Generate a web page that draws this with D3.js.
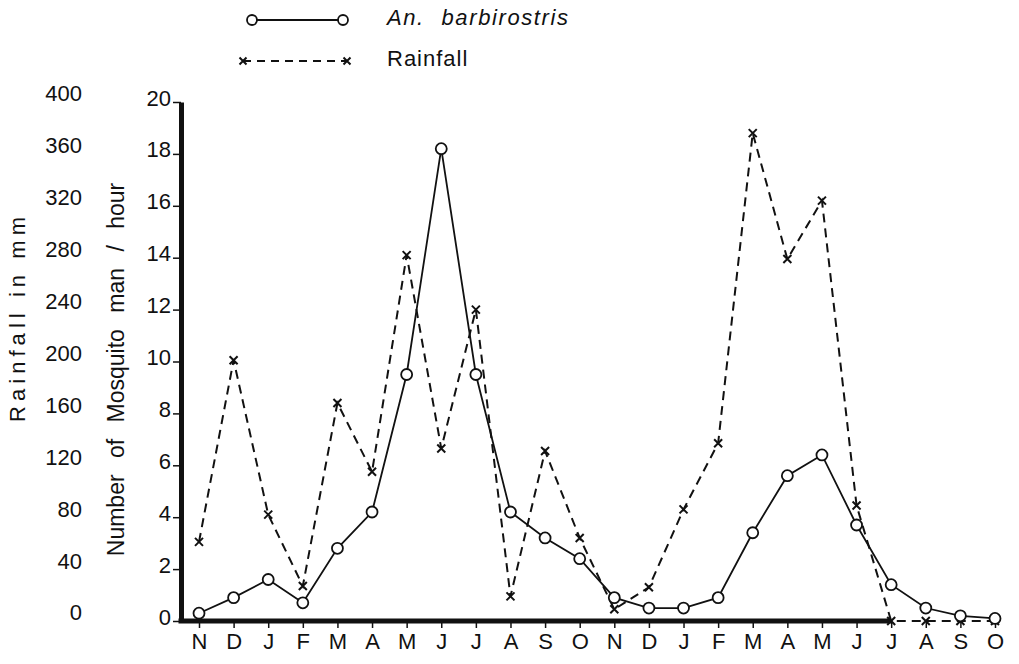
<!DOCTYPE html>
<html>
<head>
<meta charset="utf-8">
<script src="https://cdn.jsdelivr.net/npm/d3@7"></script>
<style>
  body { margin: 0; background: #fff; }
  text { font-family: "Liberation Sans", Arial, sans-serif; fill: #111; }
</style>
</head>
<body>
<div id="chart"></div>
<script>
// month labels, Nov to Oct over two years
const months = ["N","D","J","F","M","A","M","J","J","A","S","O",
                "N","D","J","F","M","A","M","J","J","A","S","O"];
// An. barbirostris, mosquitoes per man-hour
const mosquito = [0.3,0.9,1.6,0.7,2.8,4.2,9.5,18.2,9.5,4.2,3.2,2.4,
                  0.9,0.5,0.5,0.9,3.4,5.6,6.4,3.7,1.4,0.5,0.2,0.1];
// rainfall in mm
const rainfall = [61,201,82,27,168,115,282,133,240,19,131,64,
                  9,26,86,137,376,279,324,89,0,0,0,0];
const mosqTicks = d3.range(0, 21, 2);
const rainTicks = d3.range(0, 401, 40);

const width = 1019, height = 664;
const axisX = 181;

const svg = d3.select("#chart").append("svg")
    .attr("width", width)
    .attr("height", height);

const x = d3.scalePoint().domain(d3.range(months.length)).range([199, 995]);
const y = d3.scaleLinear().domain([0, 20]).range([621, 102]);
const yRain = d3.scaleLinear().domain([0, 400]).range([621, 102]);

// mosquito axis (thick line)
const yAxisG = svg.append("g")
    .attr("transform", `translate(${axisX},0)`)
    .call(d3.axisLeft(y).tickValues(mosqTicks).tickSize(8).tickSizeOuter(0).tickPadding(2));
yAxisG.select(".domain").attr("stroke-width", 5).attr("stroke", "#111");
yAxisG.selectAll(".tick line").attr("stroke-width", 1.5).attr("stroke", "#111");
yAxisG.selectAll(".tick text").attr("dy", "0.14em").style("font-size", "22px").attr("fill", "#111");

// rainfall axis (labels only)
const rainAxisG = svg.append("g")
    .attr("transform", "translate(82,0)")
    .call(d3.axisLeft(yRain).tickValues(rainTicks).tickSize(0).tickPadding(0));
rainAxisG.select(".domain").remove();
rainAxisG.selectAll(".tick text").attr("dy", "-0.05em").style("font-size", "22px").attr("fill", "#111");

// month axis
const xAxisG = svg.append("g")
    .attr("transform", "translate(0,621)")
    .call(d3.axisBottom(x).tickFormat(i => months[i]).tickSize(7).tickPadding(5));
xAxisG.select(".domain").remove();
xAxisG.selectAll(".tick line").attr("stroke-width", 1.5).attr("stroke", "#111");
xAxisG.selectAll(".tick text").style("font-size", "22px").attr("fill", "#111");

svg.append("line")
    .attr("x1", axisX - 2.5).attr("x2", x(20))
    .attr("y1", y(0)).attr("y2", y(0))
    .attr("stroke", "#111").attr("stroke-width", 5);

// axis titles
svg.append("text")
    .attr("transform", `translate(25,${(217 + 422) / 2}) rotate(-90)`)
    .attr("text-anchor", "middle")
    .attr("textLength", 205)
    .attr("lengthAdjust", "spacing")
    .style("font-size", "22px")
    .text("Rainfall in mm");

svg.append("text")
    .attr("transform", `translate(124,${(174 + 565) / 2}) rotate(-90)`)
    .attr("text-anchor", "middle")
    .style("font-size", "23px")
    .style("word-spacing", "10px")
    .text("Number of Mosquito man / hour");

// rainfall line
const lineRain = d3.line().x((d, i) => x(i)).y(d => yRain(d));
svg.append("path")
    .datum(rainfall)
    .attr("d", lineRain)
    .attr("fill", "none")
    .attr("stroke", "#111")
    .attr("stroke-width", 2)
    .attr("stroke-dasharray", "9,6");

// mosquito line
const lineMosq = d3.line().x((d, i) => x(i)).y(d => y(d));
svg.append("path")
    .datum(mosquito)
    .attr("d", lineMosq)
    .attr("fill", "none")
    .attr("stroke", "#111")
    .attr("stroke-width", 1.8);

const crossPath = "M-4,-4L4,4M-4,4L4,-4";

svg.selectAll(".rain-pt")
    .data(rainfall)
    .join("path")
    .attr("class", "rain-pt")
    .attr("transform", (d, i) => `translate(${x(i)},${yRain(d)})`)
    .attr("d", crossPath)
    .attr("stroke", "#111")
    .attr("stroke-width", 2);

svg.selectAll(".mosq-pt")
    .data(mosquito)
    .join("circle")
    .attr("class", "mosq-pt")
    .attr("cx", (d, i) => x(i))
    .attr("cy", d => y(d))
    .attr("r", 5.5)
    .attr("fill", "#fff")
    .attr("stroke", "#111")
    .attr("stroke-width", 1.8);

// legend
const legend = svg.append("g");
legend.append("line")
    .attr("x1", 252).attr("x2", 343).attr("y1", 20).attr("y2", 20)
    .attr("stroke", "#111").attr("stroke-width", 1.8);
legend.selectAll("circle")
    .data([252, 343])
    .join("circle")
    .attr("cx", d => d).attr("cy", 20).attr("r", 5)
    .attr("fill", "#fff").attr("stroke", "#111").attr("stroke-width", 1.8);
legend.append("text")
    .attr("x", 387).attr("y", 25)
    .style("font-size", "22px")
    .style("font-style", "italic")
    .style("letter-spacing", "1.6px")
    .style("word-spacing", "9px")
    .text("An. barbirostris");

legend.append("line")
    .attr("x1", 243).attr("x2", 347).attr("y1", 61).attr("y2", 61)
    .attr("stroke", "#111").attr("stroke-width", 2)
    .attr("stroke-dasharray", "8,6");
legend.selectAll(".leg-x")
    .data([243, 347])
    .join("path")
    .attr("class", "leg-x")
    .attr("transform", d => `translate(${d},61)`)
    .attr("d", "M-3.5,-3.5L3.5,3.5M-3.5,3.5L3.5,-3.5")
    .attr("stroke", "#111").attr("stroke-width", 2);
legend.append("text")
    .attr("x", 387).attr("y", 66)
    .style("font-size", "22px")
    .style("letter-spacing", "1px")
    .text("Rainfall");
</script>
</body>
</html>
